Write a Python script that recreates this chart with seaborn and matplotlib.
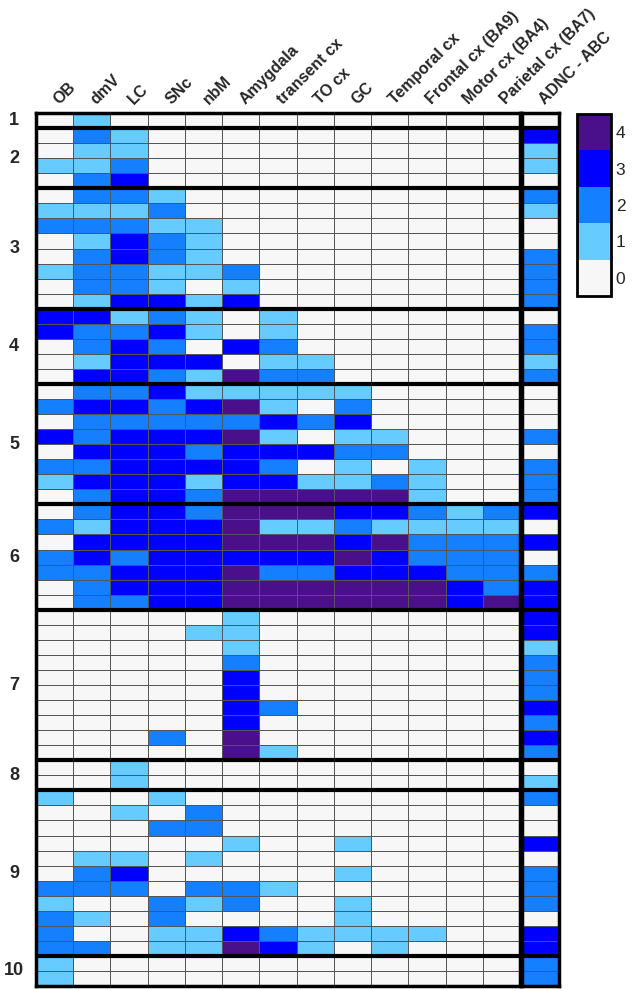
# %%
import numpy as np
import pandas as pd
import seaborn as sns
import matplotlib.pyplot as plt
from matplotlib.colors import ListedColormap
from matplotlib.transforms import blended_transform_factory, ScaledTranslation


regions = ['OB', 'dmV', 'LC', 'SNc', 'nbM', 'Amygdala', 'transent cx', 'TO cx', 'GC',
           'Temporal cx', 'Frontal cx (BA9)', 'Motor cx (BA4)', 'Parietal cx (BA7)']
score_col = 'ADNC - ABC'
group_names = ['1', '2', '3', '4', '5', '6', '7', '8', '9', '10']

# scores per case (0-4), one list per group
g1 = [[0, 1, 0, 0, 0, 0, 0, 0, 0, 0, 0, 0, 0]]
g2 = [[0, 2, 1, 0, 0, 0, 0, 0, 0, 0, 0, 0, 0],
      [0, 1, 1, 0, 0, 0, 0, 0, 0, 0, 0, 0, 0],
      [1, 1, 2, 0, 0, 0, 0, 0, 0, 0, 0, 0, 0],
      [0, 2, 3, 0, 0, 0, 0, 0, 0, 0, 0, 0, 0]]
g3 = [[0, 2, 2, 1, 0, 0, 0, 0, 0, 0, 0, 0, 0],
      [1, 1, 1, 2, 0, 0, 0, 0, 0, 0, 0, 0, 0],
      [2, 2, 2, 1, 1, 0, 0, 0, 0, 0, 0, 0, 0],
      [0, 1, 3, 2, 1, 0, 0, 0, 0, 0, 0, 0, 0],
      [0, 2, 3, 2, 1, 0, 0, 0, 0, 0, 0, 0, 0],
      [1, 2, 2, 1, 1, 2, 0, 0, 0, 0, 0, 0, 0],
      [0, 2, 2, 1, 0, 1, 0, 0, 0, 0, 0, 0, 0],
      [0, 1, 3, 3, 1, 3, 0, 0, 0, 0, 0, 0, 0]]
g4 = [[3, 3, 1, 2, 1, 0, 1, 0, 0, 0, 0, 0, 0],
      [3, 2, 2, 3, 1, 0, 1, 0, 0, 0, 0, 0, 0],
      [0, 2, 3, 2, 0, 3, 2, 0, 0, 0, 0, 0, 0],
      [0, 1, 3, 3, 3, 0, 1, 1, 0, 0, 0, 0, 0],
      [0, 3, 3, 2, 1, 4, 2, 2, 0, 0, 0, 0, 0]]
g5 = [[0, 2, 2, 3, 1, 1, 1, 1, 1, 0, 0, 0, 0],
      [2, 3, 3, 2, 3, 4, 1, 0, 2, 0, 0, 0, 0],
      [0, 2, 2, 2, 2, 2, 3, 2, 3, 0, 0, 0, 0],
      [3, 2, 3, 3, 3, 4, 1, 0, 1, 1, 0, 0, 0],
      [0, 3, 3, 3, 2, 3, 3, 3, 2, 2, 0, 0, 0],
      [2, 2, 3, 3, 3, 3, 2, 0, 1, 0, 1, 0, 0],
      [1, 3, 3, 3, 1, 3, 3, 1, 1, 2, 1, 0, 0],
      [0, 2, 3, 3, 2, 4, 4, 4, 4, 4, 1, 0, 0]]
g6 = [[0, 2, 3, 3, 2, 4, 4, 4, 3, 3, 2, 1, 2],
      [2, 1, 3, 3, 3, 4, 1, 1, 2, 1, 1, 1, 1],
      [0, 3, 3, 3, 3, 4, 4, 4, 3, 4, 2, 2, 2],
      [2, 3, 2, 3, 3, 3, 3, 3, 4, 3, 2, 2, 2],
      [2, 2, 3, 3, 3, 4, 2, 2, 3, 3, 3, 2, 2],
      [0, 2, 3, 3, 3, 4, 4, 4, 4, 4, 4, 3, 2],
      [0, 2, 2, 3, 3, 4, 4, 4, 4, 4, 4, 3, 4]]
g7 = [[0, 0, 0, 0, 0, 1, 0, 0, 0, 0, 0, 0, 0],
      [0, 0, 0, 0, 1, 1, 0, 0, 0, 0, 0, 0, 0],
      [0, 0, 0, 0, 0, 1, 0, 0, 0, 0, 0, 0, 0],
      [0, 0, 0, 0, 0, 2, 0, 0, 0, 0, 0, 0, 0],
      [0, 0, 0, 0, 0, 3, 0, 0, 0, 0, 0, 0, 0],
      [0, 0, 0, 0, 0, 3, 0, 0, 0, 0, 0, 0, 0],
      [0, 0, 0, 0, 0, 3, 2, 0, 0, 0, 0, 0, 0],
      [0, 0, 0, 0, 0, 3, 0, 0, 0, 0, 0, 0, 0],
      [0, 0, 0, 2, 0, 4, 0, 0, 0, 0, 0, 0, 0],
      [0, 0, 0, 0, 0, 4, 1, 0, 0, 0, 0, 0, 0]]
g8 = [[0, 0, 1, 0, 0, 0, 0, 0, 0, 0, 0, 0, 0],
      [0, 0, 1, 0, 0, 0, 0, 0, 0, 0, 0, 0, 0]]
g9 = [[1, 0, 0, 1, 0, 0, 0, 0, 0, 0, 0, 0, 0],
      [0, 0, 1, 0, 2, 0, 0, 0, 0, 0, 0, 0, 0],
      [0, 0, 0, 2, 2, 0, 0, 0, 0, 0, 0, 0, 0],
      [0, 0, 0, 0, 0, 1, 0, 0, 1, 0, 0, 0, 0],
      [0, 1, 1, 0, 1, 0, 0, 0, 0, 0, 0, 0, 0],
      [0, 2, 3, 0, 0, 0, 0, 0, 1, 0, 0, 0, 0],
      [2, 2, 2, 0, 2, 2, 1, 0, 0, 0, 0, 0, 0],
      [1, 0, 0, 2, 1, 2, 0, 0, 1, 0, 0, 0, 0],
      [2, 1, 0, 2, 0, 0, 0, 0, 1, 0, 0, 0, 0],
      [2, 0, 0, 1, 1, 3, 2, 1, 1, 1, 1, 0, 0],
      [2, 2, 0, 1, 1, 4, 3, 1, 0, 1, 0, 0, 0]]
g10 = [[1, 0, 0, 0, 0, 0, 0, 0, 0, 0, 0, 0, 0],
       [1, 0, 0, 0, 0, 0, 0, 0, 0, 0, 0, 0, 0]]

# ADNC - ABC per case
adnc1 = [0]
adnc2 = [3, 1, 1, 0]
adnc3 = [2, 1, 0, 0, 2, 2, 2, 2]
adnc4 = [0, 2, 2, 1, 2]
adnc5 = [0, 0, 0, 2, 0, 2, 2, 2]
adnc6 = [3, 0, 3, 0, 2, 3, 3]
adnc7 = [3, 3, 1, 2, 2, 2, 3, 2, 3, 2]
adnc8 = [0, 1]
adnc9 = [2, 0, 0, 3, 0, 2, 2, 2, 0, 3, 3]
adnc10 = [2, 2]

groups = [g1, g2, g3, g4, g5, g6, g7, g8, g9, g10]
adnc = [adnc1, adnc2, adnc3, adnc4, adnc5, adnc6, adnc7, adnc8, adnc9, adnc10]

df = pd.DataFrame(np.vstack(groups), columns=regions)
df_adnc = pd.DataFrame({score_col: np.concatenate(adnc)})

sns.set_style('white')
plt.rcParams['font.family'] = ['Liberation Sans', 'DejaVu Sans']

colors = ['#f7f7f7', '#66ccff', '#1580ff', '#0000ff', '#4a0f8a']
cmap = ListedColormap(colors)

fig = plt.figure(figsize=(6.33, 9.89), dpi=100)
ax = fig.add_axes([0.0569, 0.003, 0.7646, 0.8827])
ax2 = fig.add_axes([0.8246, 0.003, 0.0585, 0.8827])
cax = fig.add_axes([0.9115, 0.7007, 0.0537, 0.184])

sns.heatmap(df, ax=ax, cmap=cmap, vmin=-0.5, vmax=4.5, linewidths=0.6, linecolor='#555555',
            cbar_ax=cax, cbar_kws={'ticks': [0, 1, 2, 3, 4]}, yticklabels=False)
sns.heatmap(df_adnc, ax=ax2, cmap=cmap, vmin=-0.5, vmax=4.5, linewidths=0.6, linecolor='#555555',
            cbar=False, yticklabels=False)

shift = ScaledTranslation(5 / 72, 0, fig.dpi_scale_trans)
for a in (ax, ax2):
    a.xaxis.tick_top()
    a.tick_params(length=0, pad=4)
    plt.setp(a.get_xticklabels(), rotation=45, ha='left', rotation_mode='anchor',
             fontweight='bold', fontsize=11.5)
    for lab in a.get_xticklabels():
        lab.set_transform(lab.get_transform() + shift)
    a.set_xlabel('')
    a.set_ylabel('')
    for s in a.spines.values():
        s.set_visible(True)
        s.set_linewidth(2.5)
        s.set_color('black')

# separadores entre grupos
sizes = [len(g) for g in groups]
bounds = np.cumsum(sizes)
for b in bounds[:-1]:
    ax.axhline(b, color='black', lw=3)
    ax2.axhline(b, color='black', lw=3)

trans = blended_transform_factory(ax.transAxes, ax.transData)
starts = bounds - np.array(sizes)
for name, st, n in zip(group_names, starts, sizes):
    ax.text(-0.045, st + n / 2, name, transform=trans, ha='center', va='center',
            fontweight='bold', fontsize=13)

cb = ax.collections[0].colorbar
cb.outline.set_linewidth(2)
cb.outline.set_edgecolor('black')
cb.ax.tick_params(direction='in', length=5, width=1.2, left=True, right=True,
                  labelsize=12.5, color='black')

plt.savefig('out.png', dpi=100)
